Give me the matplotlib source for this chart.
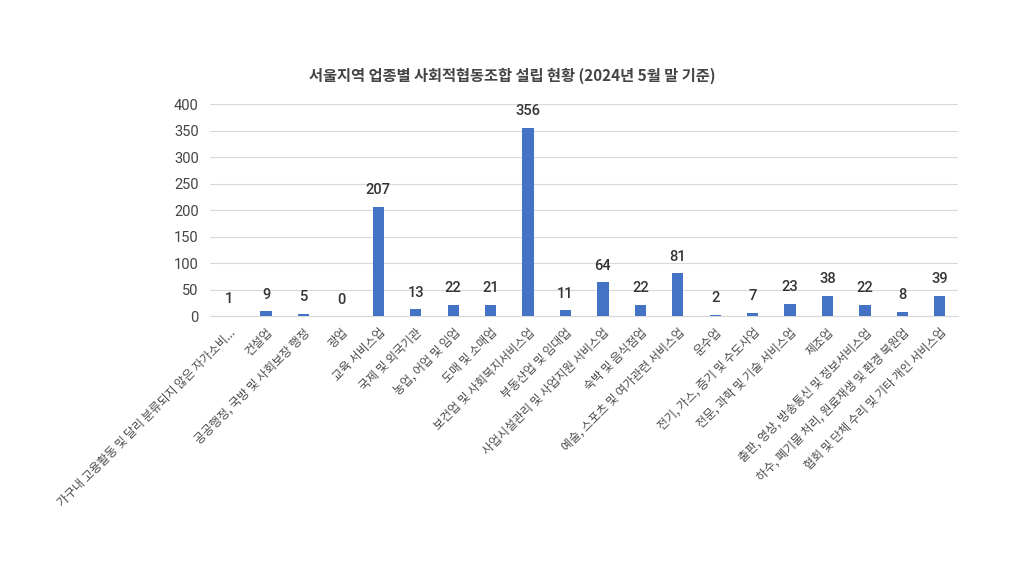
import matplotlib
matplotlib.use("Agg")
import matplotlib.pyplot as plt

plt.rcParams['font.family'] = ['Noto Sans CJK KR', 'DejaVu Sans']

categories = [
    "가구내 고용활동 및 달리 분류되지 않은 자가소비...",
    "건설업",
    "공공행정, 국방 및 사회보장 행정",
    "광업",
    "교육 서비스업",
    "국제 및 외국기관",
    "농업, 어업 및 임업",
    "도매 및 소매업",
    "보건업 및 사회복지서비스업",
    "부동산업 및 임대업",
    "사업시설관리 및 사업지원 서비스업",
    "숙박 및 음식점업",
    "예술, 스포츠 및 여가관련 서비스업",
    "운수업",
    "전기, 가스, 증기 및 수도사업",
    "전문, 과학 및 기술 서비스업",
    "제조업",
    "출판, 영상, 방송통신 및 정보서비스업",
    "하수, 폐기물 처리, 원료재생 및 환경 복원업",
    "협회 및 단체 수리 및 기타 개인 서비스업",
]
values = [1, 9, 5, 0, 207, 13, 22, 21, 356, 11, 64, 22, 81, 2, 7, 23, 38, 22, 8, 39]
yticks = [0, 50, 100, 150, 200, 250, 300, 350, 400]
title = "서울지역 업종별 사회적협동조합 설립 현황 (2024년 5월 말 기준)"

fig = plt.figure(figsize=(10.24, 5.76), dpi=100)
ax = fig.add_axes([0.205, 0.451, 0.731, 0.368])
x = list(range(len(categories)))
ax.bar(x, values, width=0.3, color='#4472c4', zorder=3)
ax.set_xlim(-0.5, len(categories) - 0.5)
ax.set_ylim(0, 400)
ax.set_yticks(yticks)
ax.set_yticklabels([str(v) for v in yticks], fontsize=10.5, color='#444444',
                   family=['Roboto', 'DejaVu Sans'])
ax.grid(axis='y', color='#d9d9d9', linewidth=0.8, zorder=0)
for s in ['top', 'right', 'left']:
    ax.spines[s].set_visible(False)
ax.spines['bottom'].set_color('#d9d9d9')
ax.spines['bottom'].set_linewidth(0.8)
ax.tick_params(axis='both', length=0)
ax.tick_params(axis='y', pad=8)
ax.set_xticks(x)
ax.set_xticklabels(categories, rotation=45, ha='right', rotation_mode='anchor',
                   fontsize=8.6, color='#4a4a4a', fontweight='medium')
ax.tick_params(axis='x', pad=7)
for xi, v in zip(x, values):
    ax.annotate(str(v), (xi, v), xytext=(0, 7), textcoords='offset points',
                ha='center', va='bottom', fontsize=10.5, fontweight='medium', color='#333333',
                family=['Roboto', 'DejaVu Sans'])
fig.text(0.5, 0.868, title, ha='center', va='center', fontsize=11,
         fontweight='bold', color='#444444')
fig.savefig('out.png', dpi=100)
